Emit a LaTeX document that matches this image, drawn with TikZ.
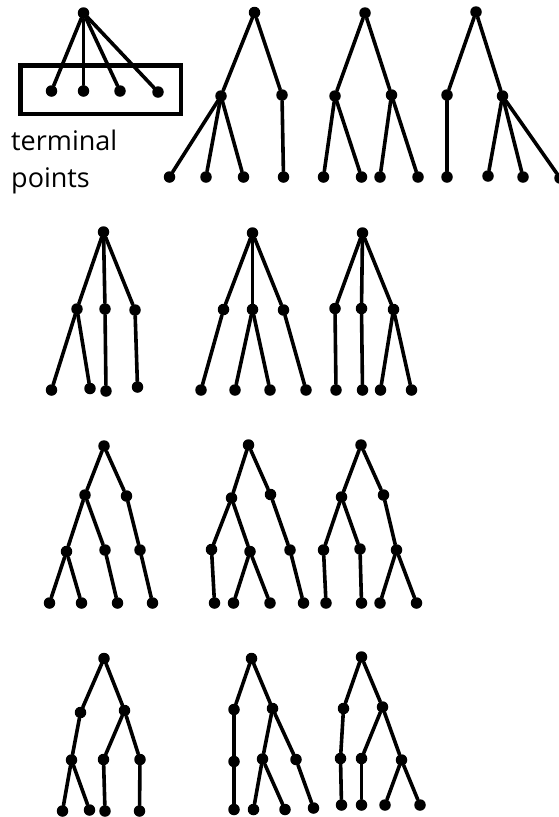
\documentclass[tikz,border=0pt]{standalone}
\usepackage{fontspec}
\setmainfont{Open Sans}
\begin{document}
\begin{tikzpicture}[x=1pt,y=-1pt,
  dot/.style={circle,fill=black,inner sep=0pt,minimum size=11.5pt},
  br/.style={line width=3.6pt,line cap=round},
  lbl/.style={anchor=base west,inner sep=0pt,font=\fontsize{27}{32}\selectfont,text=black}]
\useasboundingbox (0,0) rectangle (559,817);
% ---------- Tree 1 (terminal points)
\node[dot] (t1r) at (83.5,13) {};
\node[dot] (t1a) at (51.5,91) {};
\node[dot] (t1b) at (83.5,91) {};
\node[dot] (t1c) at (120,91) {};
\node[dot] (t1d) at (158,92) {};
\foreach \c in {t1a,t1b,t1c,t1d} \draw[br] (t1r) -- (\c);
\draw[line width=4.5pt] (20.5,65.5) rectangle (181,114);
\node[lbl] (lab1) at (11,150) {terminal};
\node[lbl] (lab2) at (11,187) {points};
% ---------- Tree 2
\node[dot] (t2r) at (254.5,12.5) {};
\node[dot] (t2a) at (221,96) {};
\node[dot] (t2b) at (282,95) {};
\node[dot] (t2c) at (169.5,177) {};
\node[dot] (t2d) at (206,177) {};
\node[dot] (t2e) at (243.5,177) {};
\node[dot] (t2f) at (283.5,177) {};
\draw[br] (t2r) -- (t2a); \draw[br] (t2r) -- (t2b);
\draw[br] (t2a) -- (t2c); \draw[br] (t2a) -- (t2d); \draw[br] (t2a) -- (t2e);
\draw[br] (t2b) -- (t2f);
% ---------- Tree 3
\node[dot] (t3r) at (365,13) {};
\node[dot] (t3a) at (335,96) {};
\node[dot] (t3b) at (391.5,95) {};
\node[dot] (t3c) at (323.5,177) {};
\node[dot] (t3d) at (361.5,177) {};
\node[dot] (t3e) at (380,177) {};
\node[dot] (t3f) at (418,177) {};
\draw[br] (t3r) -- (t3a); \draw[br] (t3r) -- (t3b);
\draw[br] (t3a) -- (t3c); \draw[br] (t3a) -- (t3d);
\draw[br] (t3b) -- (t3e); \draw[br] (t3b) -- (t3f);
% ---------- Tree 4
\node[dot] (t4r) at (476,12) {};
\node[dot] (t4a) at (447,95) {};
\node[dot] (t4b) at (502.5,96) {};
\node[dot] (t4c) at (447,177) {};
\node[dot] (t4d) at (488,176) {};
\node[dot] (t4e) at (523,177) {};
\node[dot] (t4f) at (560,178) {};
\draw[br] (t4r) -- (t4a); \draw[br] (t4r) -- (t4b);
\draw[br] (t4a) -- (t4c);
\draw[br] (t4b) -- (t4d); \draw[br] (t4b) -- (t4e); \draw[br] (t4b) -- (t4f);
% ---------- Tree 5
\node[dot] (t5r) at (103.5,232) {};
\node[dot] (t5a) at (77,309) {};
\node[dot] (t5b) at (105,309) {};
\node[dot] (t5c) at (135,310) {};
\node[dot] (t5d) at (51.5,390) {};
\node[dot] (t5e) at (90,388.5) {};
\node[dot] (t5f) at (106,391) {};
\node[dot] (t5g) at (137.5,387) {};
\draw[br] (t5r) -- (t5a); \draw[br] (t5r) -- (t5b); \draw[br] (t5r) -- (t5c);
\draw[br] (t5a) -- (t5d); \draw[br] (t5a) -- (t5e);
\draw[br] (t5b) -- (t5f); \draw[br] (t5c) -- (t5g);
% ---------- Tree 6
\node[dot] (t6r) at (252.5,233) {};
\node[dot] (t6a) at (223.5,309.5) {};
\node[dot] (t6b) at (252.5,309.5) {};
\node[dot] (t6c) at (283.5,310) {};
\node[dot] (t6d) at (201,390) {};
\node[dot] (t6e) at (235,390) {};
\node[dot] (t6f) at (270,390) {};
\node[dot] (t6g) at (306,390) {};
\draw[br] (t6r) -- (t6a); \draw[br] (t6r) -- (t6b); \draw[br] (t6r) -- (t6c);
\draw[br] (t6a) -- (t6d);
\draw[br] (t6b) -- (t6e); \draw[br] (t6b) -- (t6f);
\draw[br] (t6c) -- (t6g);
% ---------- Tree 7
\node[dot] (t7r) at (362.5,233) {};
\node[dot] (t7a) at (335,308.5) {};
\node[dot] (t7b) at (361.5,308.5) {};
\node[dot] (t7c) at (393.5,309.5) {};
\node[dot] (t7d) at (336,390) {};
\node[dot] (t7e) at (362.5,390) {};
\node[dot] (t7f) at (380.5,390) {};
\node[dot] (t7g) at (411.5,390) {};
\draw[br] (t7r) -- (t7a); \draw[br] (t7r) -- (t7b); \draw[br] (t7r) -- (t7c);
\draw[br] (t7a) -- (t7d); \draw[br] (t7b) -- (t7e);
\draw[br] (t7c) -- (t7f); \draw[br] (t7c) -- (t7g);
% ---------- Tree 8
\node[dot] (t8r) at (104,446) {};
\node[dot] (t8a) at (85,495) {};
\node[dot] (t8b) at (126.5,496) {};
\node[dot] (t8c) at (66.5,551.5) {};
\node[dot] (t8d) at (105,550) {};
\node[dot] (t8e) at (140,550) {};
\node[dot] (t8f) at (49.5,603) {};
\node[dot] (t8g) at (81.5,603) {};
\node[dot] (t8h) at (117.5,603) {};
\node[dot] (t8i) at (152.5,603) {};
\draw[br] (t8r) -- (t8a); \draw[br] (t8r) -- (t8b);
\draw[br] (t8a) -- (t8c); \draw[br] (t8a) -- (t8d); \draw[br] (t8b) -- (t8e);
\draw[br] (t8c) -- (t8f); \draw[br] (t8c) -- (t8g);
\draw[br] (t8d) -- (t8h); \draw[br] (t8e) -- (t8i);
% ---------- Tree 9
\node[dot] (t9r) at (248.5,445) {};
\node[dot] (t9a) at (231.5,498) {};
\node[dot] (t9b) at (270.5,494.5) {};
\node[dot] (t9c) at (211.5,549.5) {};
\node[dot] (t9d) at (250,551.5) {};
\node[dot] (t9e) at (290,550) {};
\node[dot] (t9f) at (214.5,603) {};
\node[dot] (t9g) at (233.5,603) {};
\node[dot] (t9h) at (270,603) {};
\node[dot] (t9i) at (303.5,603) {};
\draw[br] (t9r) -- (t9a); \draw[br] (t9r) -- (t9b);
\draw[br] (t9a) -- (t9c); \draw[br] (t9a) -- (t9d); \draw[br] (t9b) -- (t9e);
\draw[br] (t9c) -- (t9f);
\draw[br] (t9d) -- (t9g); \draw[br] (t9d) -- (t9h);
\draw[br] (t9e) -- (t9i);
% ---------- Tree 10
\node[dot] (t10r) at (361,445) {};
\node[dot] (t10a) at (341.5,497) {};
\node[dot] (t10b) at (383.5,495) {};
\node[dot] (t10c) at (323.5,550) {};
\node[dot] (t10d) at (360,549) {};
\node[dot] (t10e) at (396.5,550) {};
\node[dot] (t10f) at (326,603) {};
\node[dot] (t10g) at (361.5,603) {};
\node[dot] (t10h) at (380,603) {};
\node[dot] (t10i) at (416.5,603) {};
\draw[br] (t10r) -- (t10a); \draw[br] (t10r) -- (t10b);
\draw[br] (t10a) -- (t10c); \draw[br] (t10a) -- (t10d); \draw[br] (t10b) -- (t10e);
\draw[br] (t10c) -- (t10f); \draw[br] (t10d) -- (t10g);
\draw[br] (t10e) -- (t10h); \draw[br] (t10e) -- (t10i);
% ---------- Tree 11
\node[dot] (t11r) at (104,658.5) {};
\node[dot] (t11a) at (80.5,712.5) {};
\node[dot] (t11b) at (124.5,710.5) {};
\node[dot] (t11c) at (71.5,760) {};
\node[dot] (t11d) at (103.5,759.5) {};
\node[dot] (t11e) at (140,759.5) {};
\node[dot] (t11f) at (62.5,811) {};
\node[dot] (t11g) at (89.5,810) {};
\node[dot] (t11h) at (105,811) {};
\node[dot] (t11i) at (139.5,811) {};
\draw[br] (t11r) -- (t11a); \draw[br] (t11r) -- (t11b);
\draw[br] (t11a) -- (t11c); \draw[br] (t11b) -- (t11d); \draw[br] (t11b) -- (t11e);
\draw[br] (t11c) -- (t11f); \draw[br] (t11c) -- (t11g);
\draw[br] (t11d) -- (t11h); \draw[br] (t11e) -- (t11i);
% ---------- Tree 12
\node[dot] (t12r) at (251.5,658.5) {};
\node[dot] (t12a) at (234,709.5) {};
\node[dot] (t12b) at (272.5,708.5) {};
\node[dot] (t12c) at (234,761.5) {};
\node[dot] (t12d) at (262.5,759) {};
\node[dot] (t12e) at (296,759.5) {};
\node[dot] (t12f) at (234,809.5) {};
\node[dot] (t12g) at (253.5,809.5) {};
\node[dot] (t12h) at (285,809.5) {};
\node[dot] (t12i) at (313.5,808) {};
\draw[br] (t12r) -- (t12a); \draw[br] (t12r) -- (t12b);
\draw[br] (t12a) -- (t12c); \draw[br] (t12b) -- (t12d); \draw[br] (t12b) -- (t12e);
\draw[br] (t12c) -- (t12f);
\draw[br] (t12d) -- (t12g); \draw[br] (t12d) -- (t12h);
\draw[br] (t12e) -- (t12i);
% ---------- Tree 13
\node[dot] (t13r) at (361.5,657) {};
\node[dot] (t13a) at (343.5,708.5) {};
\node[dot] (t13b) at (382.5,707) {};
\node[dot] (t13c) at (340.5,758.5) {};
\node[dot] (t13d) at (361.5,758.5) {};
\node[dot] (t13e) at (401.5,760) {};
\node[dot] (t13f) at (341.5,805) {};
\node[dot] (t13g) at (361.5,805) {};
\node[dot] (t13h) at (385,805) {};
\node[dot] (t13i) at (420,805) {};
\draw[br] (t13r) -- (t13a); \draw[br] (t13r) -- (t13b);
\draw[br] (t13a) -- (t13c); \draw[br] (t13b) -- (t13d); \draw[br] (t13b) -- (t13e);
\draw[br] (t13c) -- (t13f); \draw[br] (t13d) -- (t13g);
\draw[br] (t13e) -- (t13h); \draw[br] (t13e) -- (t13i);
\end{tikzpicture}
\end{document}
